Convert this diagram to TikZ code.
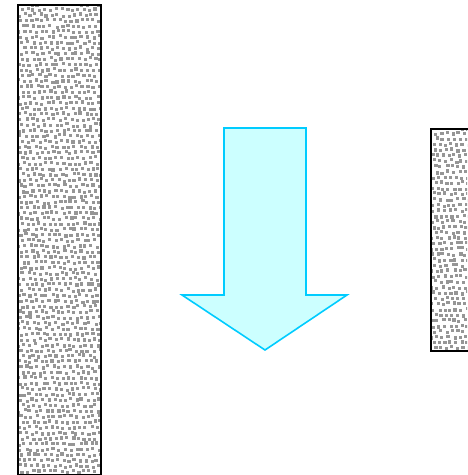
\documentclass[tikz,border=0pt]{standalone}
\usetikzlibrary{calc}
\definecolor{dotgray}{RGB}{150,150,150}
\definecolor{arrowfill}{RGB}{204,255,255}
\definecolor{arrowline}{RGB}{0,204,255}
\tikzset{
  panel/.style={draw=black, line width=2pt},
  bigarrow/.style={draw=arrowline, fill=arrowfill, line width=1.6pt, line join=miter},
  dot/.style={fill=dotgray},
}
\begin{document}
\begin{tikzpicture}[x=1pt,y=-1pt]
  \useasboundingbox (0,0) rectangle (467,475);
  \fill[white] (0,0) rectangle (467,475);
  % left panel
  \begin{scope}
    \clip (17,4) rectangle (100,474);
    \pgfmathsetseed{7}
    \foreach \r in {0,...,86}{
      \foreach \c in {0,...,15}{
        \pgfmathsetmacro{\jx}{15+5.6*\c+1.9*mod(\r,3)+1.3*rand}
        \pgfmathsetmacro{\jy}{4+5.5*\r+1.3*rand}
        \fill[dot] (\jx-1.6,\jy-1.6) rectangle ++(3.2,3.2);
      }
    }
  \end{scope}
  \node[panel, minimum width=83pt, minimum height=470pt, inner sep=0pt, anchor=north west] (left) at (17,4) {};
  % right panel
  \begin{scope}
    \clip (430,128) rectangle (467,350);
    \pgfmathsetseed{11}
    \foreach \r in {0,...,41}{
      \foreach \c in {0,...,8}{
        \pgfmathsetmacro{\jx}{428+5.6*\c+1.9*mod(\r,3)+1.3*rand}
        \pgfmathsetmacro{\jy}{128+5.5*\r+1.3*rand}
        \fill[dot] (\jx-1.6,\jy-1.6) rectangle ++(3.2,3.2);
      }
    }
  \end{scope}
  \node[panel, minimum width=60pt, minimum height=222pt, inner sep=0pt, anchor=north west] (right) at (430,128) {};
  % arrow
  \draw[bigarrow] (224,128) -- (306,128) -- (306,295) -- (347,295) -- (265,350) -- (182,295) -- (224,295) -- cycle;
\end{tikzpicture}
\end{document}
